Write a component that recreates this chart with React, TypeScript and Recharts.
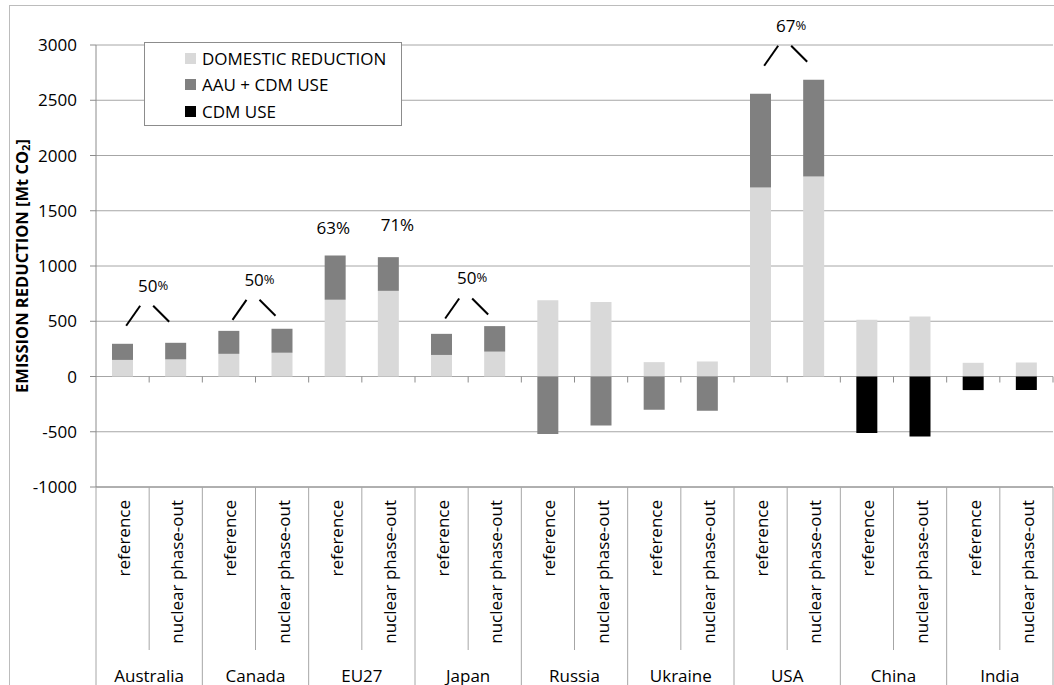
import React from "react";
import {
  BarChart,
  Bar,
  XAxis,
  YAxis,
  CartesianGrid,
  Legend,
  ReferenceLine,
  ReferenceDot,
} from "recharts";

// Countries and scenarios (two bars per country)
const COUNTRIES = ["Australia", "Canada", "EU27", "Japan", "Russia", "Ukraine", "USA", "China", "India"];
const SCENARIOS = ["reference", "nuclear phase-out"];
const SERIES_NAMES = ["DOMESTIC REDUCTION", "AAU + CDM USE", "CDM USE"];

// Mt CO2, in country x scenario order
const DOMESTIC = [150, 155, 205, 215, 695, 775, 195, 225, 690, 675, 130, 136, 1710, 1810, 513, 543, 124, 127];
const AAU_CDM = [146, 150, 208, 217, 400, 305, 191, 231, -521, -443, -301, -310, 848, 875, 0, 0, 0, 0];
const CDM = [0, 0, 0, 0, 0, 0, 0, 0, 0, 0, 0, 0, 0, 0, -512, -543, -123, -123];

const Y_TICKS = [-1000, -500, 0, 500, 1000, 1500, 2000, 2500, 3000];

// Share annotations between the two bars of a country
const SHARE_COUNTRIES = ["Australia", "Canada", "Japan", "USA"];
const SHARE_TEXT = ["50", "50", "50", "67"];
const SHARE_Y = [830, 884, 896, 3183];

// EU27 labels above each bar
const EU_TEXT = ["63%", "71%"];
const EU_Y = [1348, 1379];

const W = 1054;
const H = 685;
const Y_AXIS_W = 96;
const X_AXIS_H = 198;
const MARGIN = { top: 45, right: 1, left: 0, bottom: 0 };
const FONT = "'Open Sans', 'Noto Sans', sans-serif";
const GRID = "#a6a6a6";
const AXIS = "#8c8c8c";

const rows = COUNTRIES.flatMap((c, ci) =>
  SCENARIOS.map((s, si) => {
    const i = ci * SCENARIOS.length + si;
    return {
      id: `${c}|${s}`,
      domestic: DOMESTIC[i],
      aau: AAU_CDM[i],
      cdm: CDM[i],
    };
  })
);

const BAND = (W - Y_AXIS_W - MARGIN.left - MARGIN.right) / rows.length;

const CategoryTick = (props: any) => {
  const { x, y, payload } = props;
  const half = payload?.offset || BAND / 2;
  const [country, scen] = String(payload.value).split("|");
  const first = scen === SCENARIOS[0];
  const last = country === COUNTRIES[COUNTRIES.length - 1] && !first;
  const left = x - half;
  return (
    <g>
      <line x1={left} x2={left} y1={y} y2={first ? y + X_AXIS_H : y + 163} stroke={GRID} />
      {last && <line x1={x + half} x2={x + half} y1={y} y2={y + X_AXIS_H} stroke={GRID} />}
      <text
        transform={`translate(${x + 1},${y + 13}) rotate(-90)`}
        textAnchor="end"
        dominantBaseline="central"
        fontSize={17}
        fontFamily={FONT}
        fill="#000"
      >
        {scen}
      </text>
      {first && (
        <text
          x={x + half}
          y={y + 188}
          textAnchor="middle"
          dominantBaseline="central"
          fontSize={17}
          fontFamily={FONT}
          fill="#000"
        >
          {country}
        </text>
      )}
    </g>
  );
};

// small tick marks on the zero line at category boundaries
const ZeroTicks = (props: any) => {
  const x1 = props.x1 ?? Y_AXIS_W;
  const x2 = props.x2 ?? W - MARGIN.right;
  const y = props.y1 ?? 0;
  const step = (x2 - x1) / rows.length;
  return (
    <g>
      {rows.map((r, i) => (
        <line key={r.id} x1={x1 + step * (i + 1)} x2={x1 + step * (i + 1)} y1={y} y2={y + 6} stroke={AXIS} />
      ))}
    </g>
  );
};

const shareShape = (text: string) => (props: any) => {
  const m = props.cx + BAND / 2;
  const t = props.cy;
  return (
    <g>
      <text x={m + 4} y={t} textAnchor="middle" dominantBaseline="central" fontFamily={FONT} fill="#000">
        <tspan fontSize={17}>{text}</tspan>
        <tspan fontSize={13}>%</tspan>
      </text>
      <line x1={m - 23} y1={t + 41} x2={m - 9} y2={t + 21} stroke="#000" strokeWidth={2} />
      <line x1={m + 4} y1={t + 21} x2={m + 20} y2={t + 37} stroke="#000" strokeWidth={2} />
    </g>
  );
};

const labelShape = (text: string, dx: number) => (props: any) => (
  <text
    x={props.cx + dx}
    y={props.cy}
    textAnchor="middle"
    dominantBaseline="central"
    fontSize={17}
    fontFamily={FONT}
    fill="#000"
  >
    {text}
  </text>
);

const YTitle = (props: any) => {
  const vb = props.viewBox || {};
  const cy = (vb.y ?? MARGIN.top) + (vb.height ?? 442) / 2;
  return (
    <text
      transform={`translate(21,${cy}) rotate(-90)`}
      textAnchor="middle"
      dominantBaseline="central"
      fontSize={16.5}
      fontWeight="bold"
      fontFamily={FONT}
      fill="#000"
    >
      EMISSION REDUCTION [Mt CO
      <tspan fontSize={11} dy={4}>2</tspan>
      <tspan dy={-4}>]</tspan>
    </text>
  );
};

const LegendBox = (props: any) => {
  const items = [...(props.payload || [])].sort(
    (a: any, b: any) => SERIES_NAMES.indexOf(a.value) - SERIES_NAMES.indexOf(b.value)
  );
  return (
    <div
      style={{
        position: "relative",
        width: "100%",
        height: "100%",
        boxSizing: "border-box",
        border: `1px solid ${AXIS}`,
        background: "#fff",
        fontFamily: FONT,
        fontSize: 17,
      }}
    >
      {items.map((it: any, i: number) => (
        <div
          key={it.value}
          style={{
            position: "absolute",
            left: 40,
            top: 4 + i * 26.5,
            height: 22,
            display: "flex",
            alignItems: "center",
            whiteSpace: "nowrap",
          }}
        >
          <span style={{ width: 11, height: 11, background: it.color, display: "inline-block", marginRight: 6 }} />
          <span>{it.value}</span>
        </div>
      ))}
    </div>
  );
};

export default function App() {
  return (
    <div style={{ position: "absolute", left: 0, top: 0, width: W, height: H, overflow: "hidden", background: "#fff" }}>
      <div
        style={{
          position: "absolute",
          left: 9,
          top: 5,
          width: 1200,
          height: 900,
          borderTop: "1px solid #bcbcbc",
          borderLeft: "1px solid #bcbcbc",
        }}
      />
      <BarChart width={W} height={H} data={rows} margin={MARGIN} stackOffset="sign" barSize={21}>
        <CartesianGrid horizontal vertical={false} stroke={GRID} />
        <YAxis
          type="number"
          domain={[-1000, 3000]}
          ticks={Y_TICKS}
          interval={0}
          width={Y_AXIS_W}
          axisLine={{ stroke: AXIS }}
          tickLine={{ stroke: AXIS }}
          tickSize={6}
          tickMargin={13}
          tick={{ fill: "#000", fontSize: 17, fontFamily: FONT }}
          label={{ content: <YTitle /> }}
        />
        <XAxis
          dataKey="id"
          type="category"
          interval={0}
          height={X_AXIS_H}
          axisLine={{ stroke: AXIS }}
          tickLine={false}
          tickSize={0}
          tickMargin={0}
          tick={<CategoryTick />}
        />
        <Legend
          layout="vertical"
          align="center"
          verticalAlign="middle"
          wrapperStyle={{ left: 144, top: 42, width: 258, height: 84 }}
          content={<LegendBox />}
        />
        <Bar dataKey="domestic" name={SERIES_NAMES[0]} stackId="a" fill="#d9d9d9" isAnimationActive={false} />
        <Bar dataKey="aau" name={SERIES_NAMES[1]} stackId="a" fill="#808080" isAnimationActive={false} />
        <Bar dataKey="cdm" name={SERIES_NAMES[2]} stackId="a" fill="#000000" isAnimationActive={false} />
        <ReferenceLine y={0} ifOverflow="visible" shape={ZeroTicks} />
        {SHARE_COUNTRIES.map((c, i) => (
          <ReferenceDot
            key={c}
            x={`${c}|${SCENARIOS[0]}`}
            y={SHARE_Y[i]}
            r={0}
            ifOverflow="visible"
            shape={shareShape(SHARE_TEXT[i])}
          />
        ))}
        {EU_TEXT.map((t, i) => (
          <ReferenceDot
            key={t}
            x={`EU27|${SCENARIOS[i]}`}
            y={EU_Y[i]}
            r={0}
            ifOverflow="visible"
            shape={labelShape(t, i === 0 ? -2 : 9)}
          />
        ))}
      </BarChart>
    </div>
  );
}
